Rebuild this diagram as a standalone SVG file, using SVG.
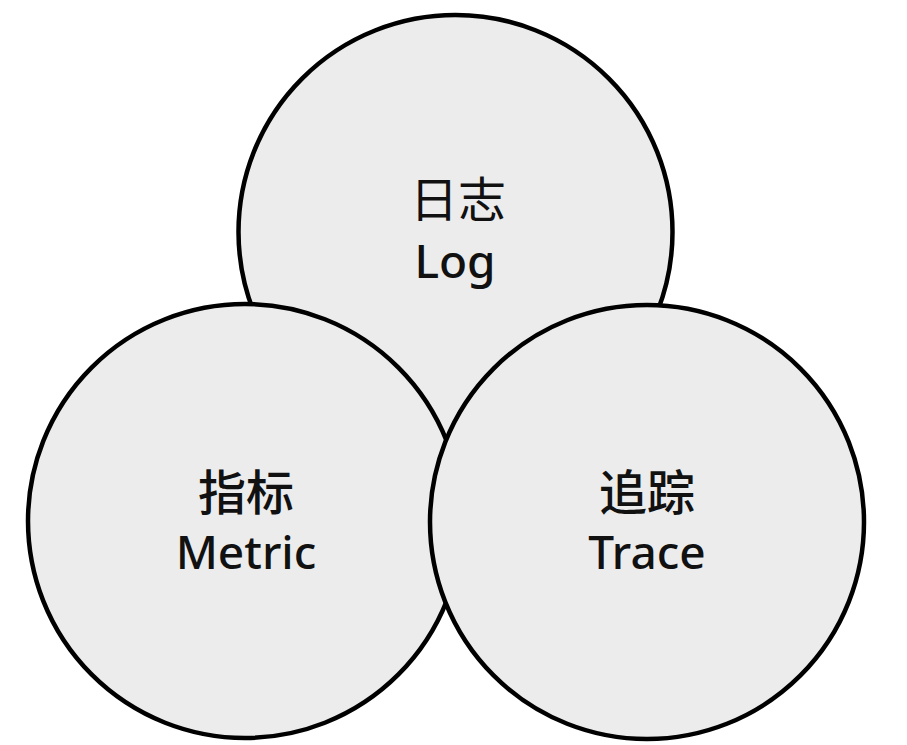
<svg xmlns="http://www.w3.org/2000/svg" width="907" height="745" viewBox="0 0 907 745">
<style>
.c{fill:#ececec;stroke:#000;stroke-width:4.5}
.cj{font-family:"Noto Sans CJK SC","Noto Sans",sans-serif;font-size:48px;fill:#111;text-anchor:middle}
.en{font-family:"Noto Sans","Liberation Sans",sans-serif;font-size:46px;font-weight:500;fill:#111;text-anchor:middle}
</style>
<rect width="907" height="745" fill="#fff"/>
<g id="log">
<circle class="c" cx="455.5" cy="232" r="217"/>
<text class="cj" x="458" y="217">日志</text>
<text class="en" x="455" y="278">Log</text>
</g>
<g id="metric">
<circle class="c" cx="245" cy="521" r="217"/>
<text class="cj" x="246" y="510" font-weight="500">指标</text>
<text class="en" x="246" y="569">Metric</text>
</g>
<g id="trace">
<circle class="c" cx="647" cy="522" r="217"/>
<text class="cj" x="647" y="510" font-weight="500">追踪</text>
<text class="en" x="647" y="569">Trace</text>
</g>
<g id="connectors"></g>
</svg>
